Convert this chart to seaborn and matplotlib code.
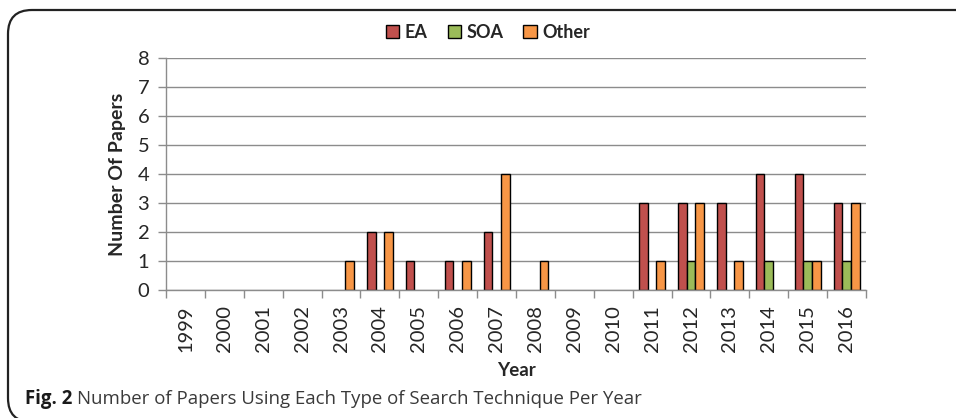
import numpy as np
import pandas as pd
import matplotlib
matplotlib.use("Agg")
import matplotlib.pyplot as plt
from matplotlib.patches import FancyBboxPatch, Patch
import seaborn as sns

years = [str(y) for y in range(1999, 2017)]
ea_counts = [0, 0, 0, 0, 0, 2, 1, 1, 2, 0, 0, 0, 3, 3, 3, 4, 4, 3]
soa_counts = [0, 0, 0, 0, 0, 0, 0, 0, 0, 0, 0, 0, 0, 1, 0, 1, 1, 1]
other_counts = [0, 0, 0, 0, 1, 2, 0, 1, 4, 1, 0, 0, 1, 3, 1, 0, 1, 3]
techniques = ["EA", "SOA", "Other"]
colors = ["#C0504D", "#9BBB59", "#F79646"]

df = pd.DataFrame({
    "Year": years * 3,
    "Technique": sum([[t] * len(years) for t in techniques], []),
    "Papers": ea_counts + soa_counts + other_counts,
})

sns.set_style("white")
plt.rcParams["font.family"] = ["Lato", "DejaVu Sans"]

fig = plt.figure(figsize=(9.56, 4.18), dpi=100)
ax = fig.add_axes([166 / 956, 1 - 290 / 418, 700 / 956, 232 / 418])

sns.barplot(data=df, x="Year", y="Papers", hue="Technique", order=years,
            hue_order=techniques, palette=colors, width=0.67,
            edgecolor="black", linewidth=1.0, saturation=1, ax=ax, legend=False)

# hide empty bars so no outline sits on the baseline
for p in ax.patches:
    if p.get_height() == 0:
        p.set_visible(False)

grid_c = "#8C8C8C"
ax.set_ylim(0, 8)
ax.set_xlim(-0.5, len(years) - 0.5)
ax.set_yticks(range(0, 9))
ax.yaxis.grid(True, color=grid_c, linewidth=1.0)
ax.set_axisbelow(True)
for s in ["top", "right"]:
    ax.spines[s].set_visible(False)
for s in ["left", "bottom"]:
    ax.spines[s].set_color(grid_c)
    ax.spines[s].set_linewidth(1.0)

ax.set_xticks(range(len(years)))
ax.set_xticklabels(years, rotation=90)
ax.set_xticks(np.arange(-0.5, len(years)), minor=True)
ax.tick_params(axis="x", which="major", length=0, pad=11, labelsize=14.5)
ax.tick_params(axis="x", which="minor", length=6, color=grid_c, width=1.0, bottom=True)
ax.tick_params(axis="y", length=6, color=grid_c, width=1.0, labelsize=14.5, pad=6, left=True)

ax.set_xlabel("Year", fontsize=13.5, fontweight="bold", labelpad=7)
ax.set_ylabel("Number Of Papers", fontsize=14, fontweight="bold", labelpad=8)

handles = [Patch(facecolor=c, edgecolor="black", linewidth=1.0) for c in colors]
leg = fig.legend(handles, techniques, loc="center", bbox_to_anchor=(488 / 956, 1 - 32 / 418),
                 ncol=3, frameon=False, prop={"weight": "bold", "size": 13},
                 handlelength=0.75, handleheight=0.75, handletextpad=0.3, columnspacing=1.1)

# rounded frame around figure and caption
frame = FancyBboxPatch((8 / 956, -4 / 418), 1.2, 412 / 418,
                       boxstyle="round,pad=0,rounding_size=0.025",
                       transform=fig.transFigure, fill=False,
                       edgecolor="#222222", linewidth=1.6, mutation_aspect=956 / 418)
fig.add_artist(frame)

cap_y = 1 - 399 / 418
t1 = fig.text(25 / 956, cap_y, "Fig. 2", fontsize=13.4, fontweight="bold",
              family=["Open Sans", "DejaVu Sans"], va="center", color="#1a1a1a")
fig.canvas.draw()
bb = t1.get_window_extent()
fig.text((bb.x1 + 5) / 956, cap_y,
         "Number of Papers Using Each Type of Search Technique Per Year",
         fontsize=13.4, family=["Open Sans", "DejaVu Sans"], va="center", color="#3a3a3a")

fig.savefig("out.png", dpi=100)
